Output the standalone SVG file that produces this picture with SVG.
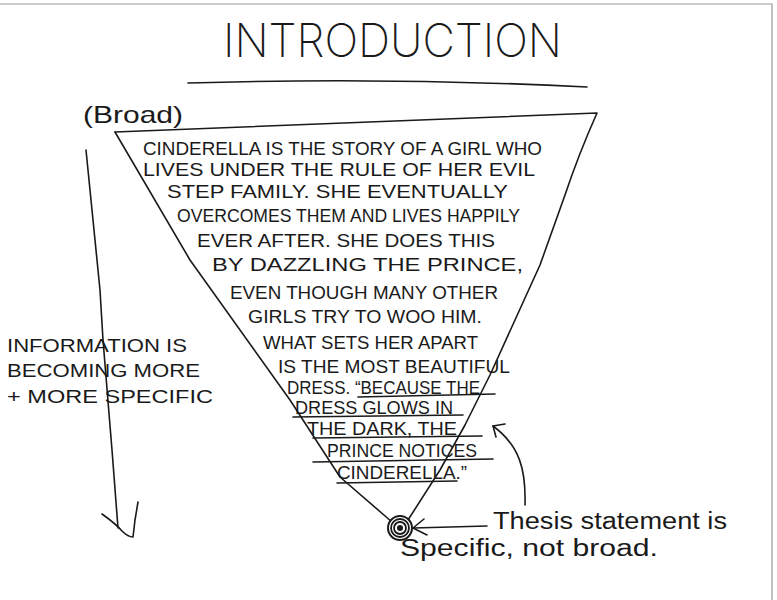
<svg xmlns="http://www.w3.org/2000/svg" width="777" height="600" viewBox="0 0 777 600">
<style>
.ink{fill:none;stroke:#1a1a1a;stroke-width:1.6;stroke-linecap:round;stroke-linejoin:round}
.frame{fill:none;stroke:#9a9a9a;stroke-width:1.2}
.cap{font-family:"Liberation Sans",Arial,sans-serif;font-size:18px;fill:#1a1a1a}
.hand{font-family:"Liberation Sans",Arial,sans-serif;fill:#1a1a1a}
.title{font-family:Inter,"Liberation Sans",sans-serif;font-weight:200;font-size:46px;fill:#1a1a1a}
</style>
<rect width="777" height="600" fill="#ffffff"/>
<g id="page-frame">
<path class="frame" d="M0,4 L772,4 L772,600"/>
</g>
<g id="title">
<text class="title" x="223" y="57" textLength="339" lengthAdjust="spacingAndGlyphs">INTRODUCTION</text>
<path class="ink" d="M188,83 Q390,77 587,87"/>
</g>
<g id="broad-label">
<text class="hand" x="83" y="123" font-size="24" textLength="100" lengthAdjust="spacingAndGlyphs">(Broad)</text>
</g>
<g id="funnel">
<path class="ink" d="M115,132 L597,113 C585,140 575,165 565,195 L540,265 L515,320 L490,375 L465,425 L440,470 L408,520"/>
<path class="ink" d="M115,132 L190,260 L290,400 L340,477 L392,522"/>
<g id="vertex">
<circle cx="400" cy="528" r="12" fill="#ffffff" stroke="#1a1a1a" stroke-width="2"/>
<circle cx="400" cy="528" r="9" fill="none" stroke="#1a1a1a" stroke-width="1.8"/>
<circle cx="400" cy="528" r="6" fill="none" stroke="#1a1a1a" stroke-width="1.8"/>
<circle cx="400" cy="528" r="3" fill="#1a1a1a"/>
</g>
</g>
<g id="paragraph">
<text class="cap" x="143" y="155" textLength="399" lengthAdjust="spacingAndGlyphs">CINDERELLA IS THE STORY OF A GIRL WHO</text>
<text class="cap" x="143" y="176" textLength="392" lengthAdjust="spacingAndGlyphs">LIVES UNDER THE RULE OF HER EVIL</text>
<text class="cap" x="167" y="198" textLength="341" lengthAdjust="spacingAndGlyphs">STEP FAMILY. SHE EVENTUALLY</text>
<text class="cap" x="177" y="222" textLength="343" lengthAdjust="spacingAndGlyphs">OVERCOMES THEM AND LIVES HAPPILY</text>
<text class="cap" x="197" y="247" textLength="298" lengthAdjust="spacingAndGlyphs">EVER AFTER. SHE DOES THIS</text>
<text class="cap" x="212" y="271" textLength="311" lengthAdjust="spacingAndGlyphs">BY DAZZLING THE PRINCE,</text>
<text class="cap" x="230" y="299" textLength="268" lengthAdjust="spacingAndGlyphs">EVEN THOUGH MANY OTHER</text>
<text class="cap" x="248" y="323" textLength="234" lengthAdjust="spacingAndGlyphs">GIRLS TRY TO WOO HIM.</text>
<text class="cap" x="263" y="349" textLength="215" lengthAdjust="spacingAndGlyphs">WHAT SETS HER APART</text>
<text class="cap" x="278" y="373" textLength="232" lengthAdjust="spacingAndGlyphs">IS THE MOST BEAUTIFUL</text>
<text class="cap" x="287" y="394" textLength="193" lengthAdjust="spacingAndGlyphs">DRESS. “BECAUSE THE</text>
<text class="cap" x="295" y="414" textLength="158" lengthAdjust="spacingAndGlyphs">DRESS GLOWS IN</text>
<text class="cap" x="307" y="435" textLength="150" lengthAdjust="spacingAndGlyphs">THE DARK, THE</text>
<text class="cap" x="327" y="457" textLength="150" lengthAdjust="spacingAndGlyphs">PRINCE NOTICES</text>
<text class="cap" x="337" y="479" textLength="130" lengthAdjust="spacingAndGlyphs">CINDERELLA.”</text>
<path class="ink" d="M358,397 L495,394"/>
<path class="ink" d="M293,417 L463,415"/>
<path class="ink" d="M313,438 L482,436"/>
<path class="ink" d="M313,462 L493,459"/>
<path class="ink" d="M337,483 L457,481"/>
</g>
<g id="side-note">
<text class="cap" x="7" y="352" font-size="20" textLength="180" lengthAdjust="spacingAndGlyphs">INFORMATION IS</text>
<text class="cap" x="7" y="377" font-size="20" textLength="193" lengthAdjust="spacingAndGlyphs">BECOMING MORE</text>
<text class="cap" x="7" y="403" font-size="20" textLength="206" lengthAdjust="spacingAndGlyphs">+ MORE SPECIFIC</text>
</g>
<g id="thesis-note">
<text class="hand" x="493" y="529" font-size="23" textLength="234" lengthAdjust="spacingAndGlyphs">Thesis statement is</text>
<text class="hand" x="400" y="556" font-size="23" textLength="258" lengthAdjust="spacingAndGlyphs">Specific, not broad.</text>
</g>
<g id="connectors">
<path class="ink" d="M86,150 L100,290 L103,340 L112,450 L118,528"/>
<path class="ink" d="M102,514 Q116,524 122,531 Q128,537 133,537 L135,520 L138,502"/>
<path class="ink" d="M487,526 L413,528"/>
<path class="ink" d="M424,519 L413,528 L427,535"/>
<path class="ink" d="M525,505 C526,470 520,446 493,426"/>
<path class="ink" d="M505,424 L493,426 L496,437"/>
</g>
</svg>
